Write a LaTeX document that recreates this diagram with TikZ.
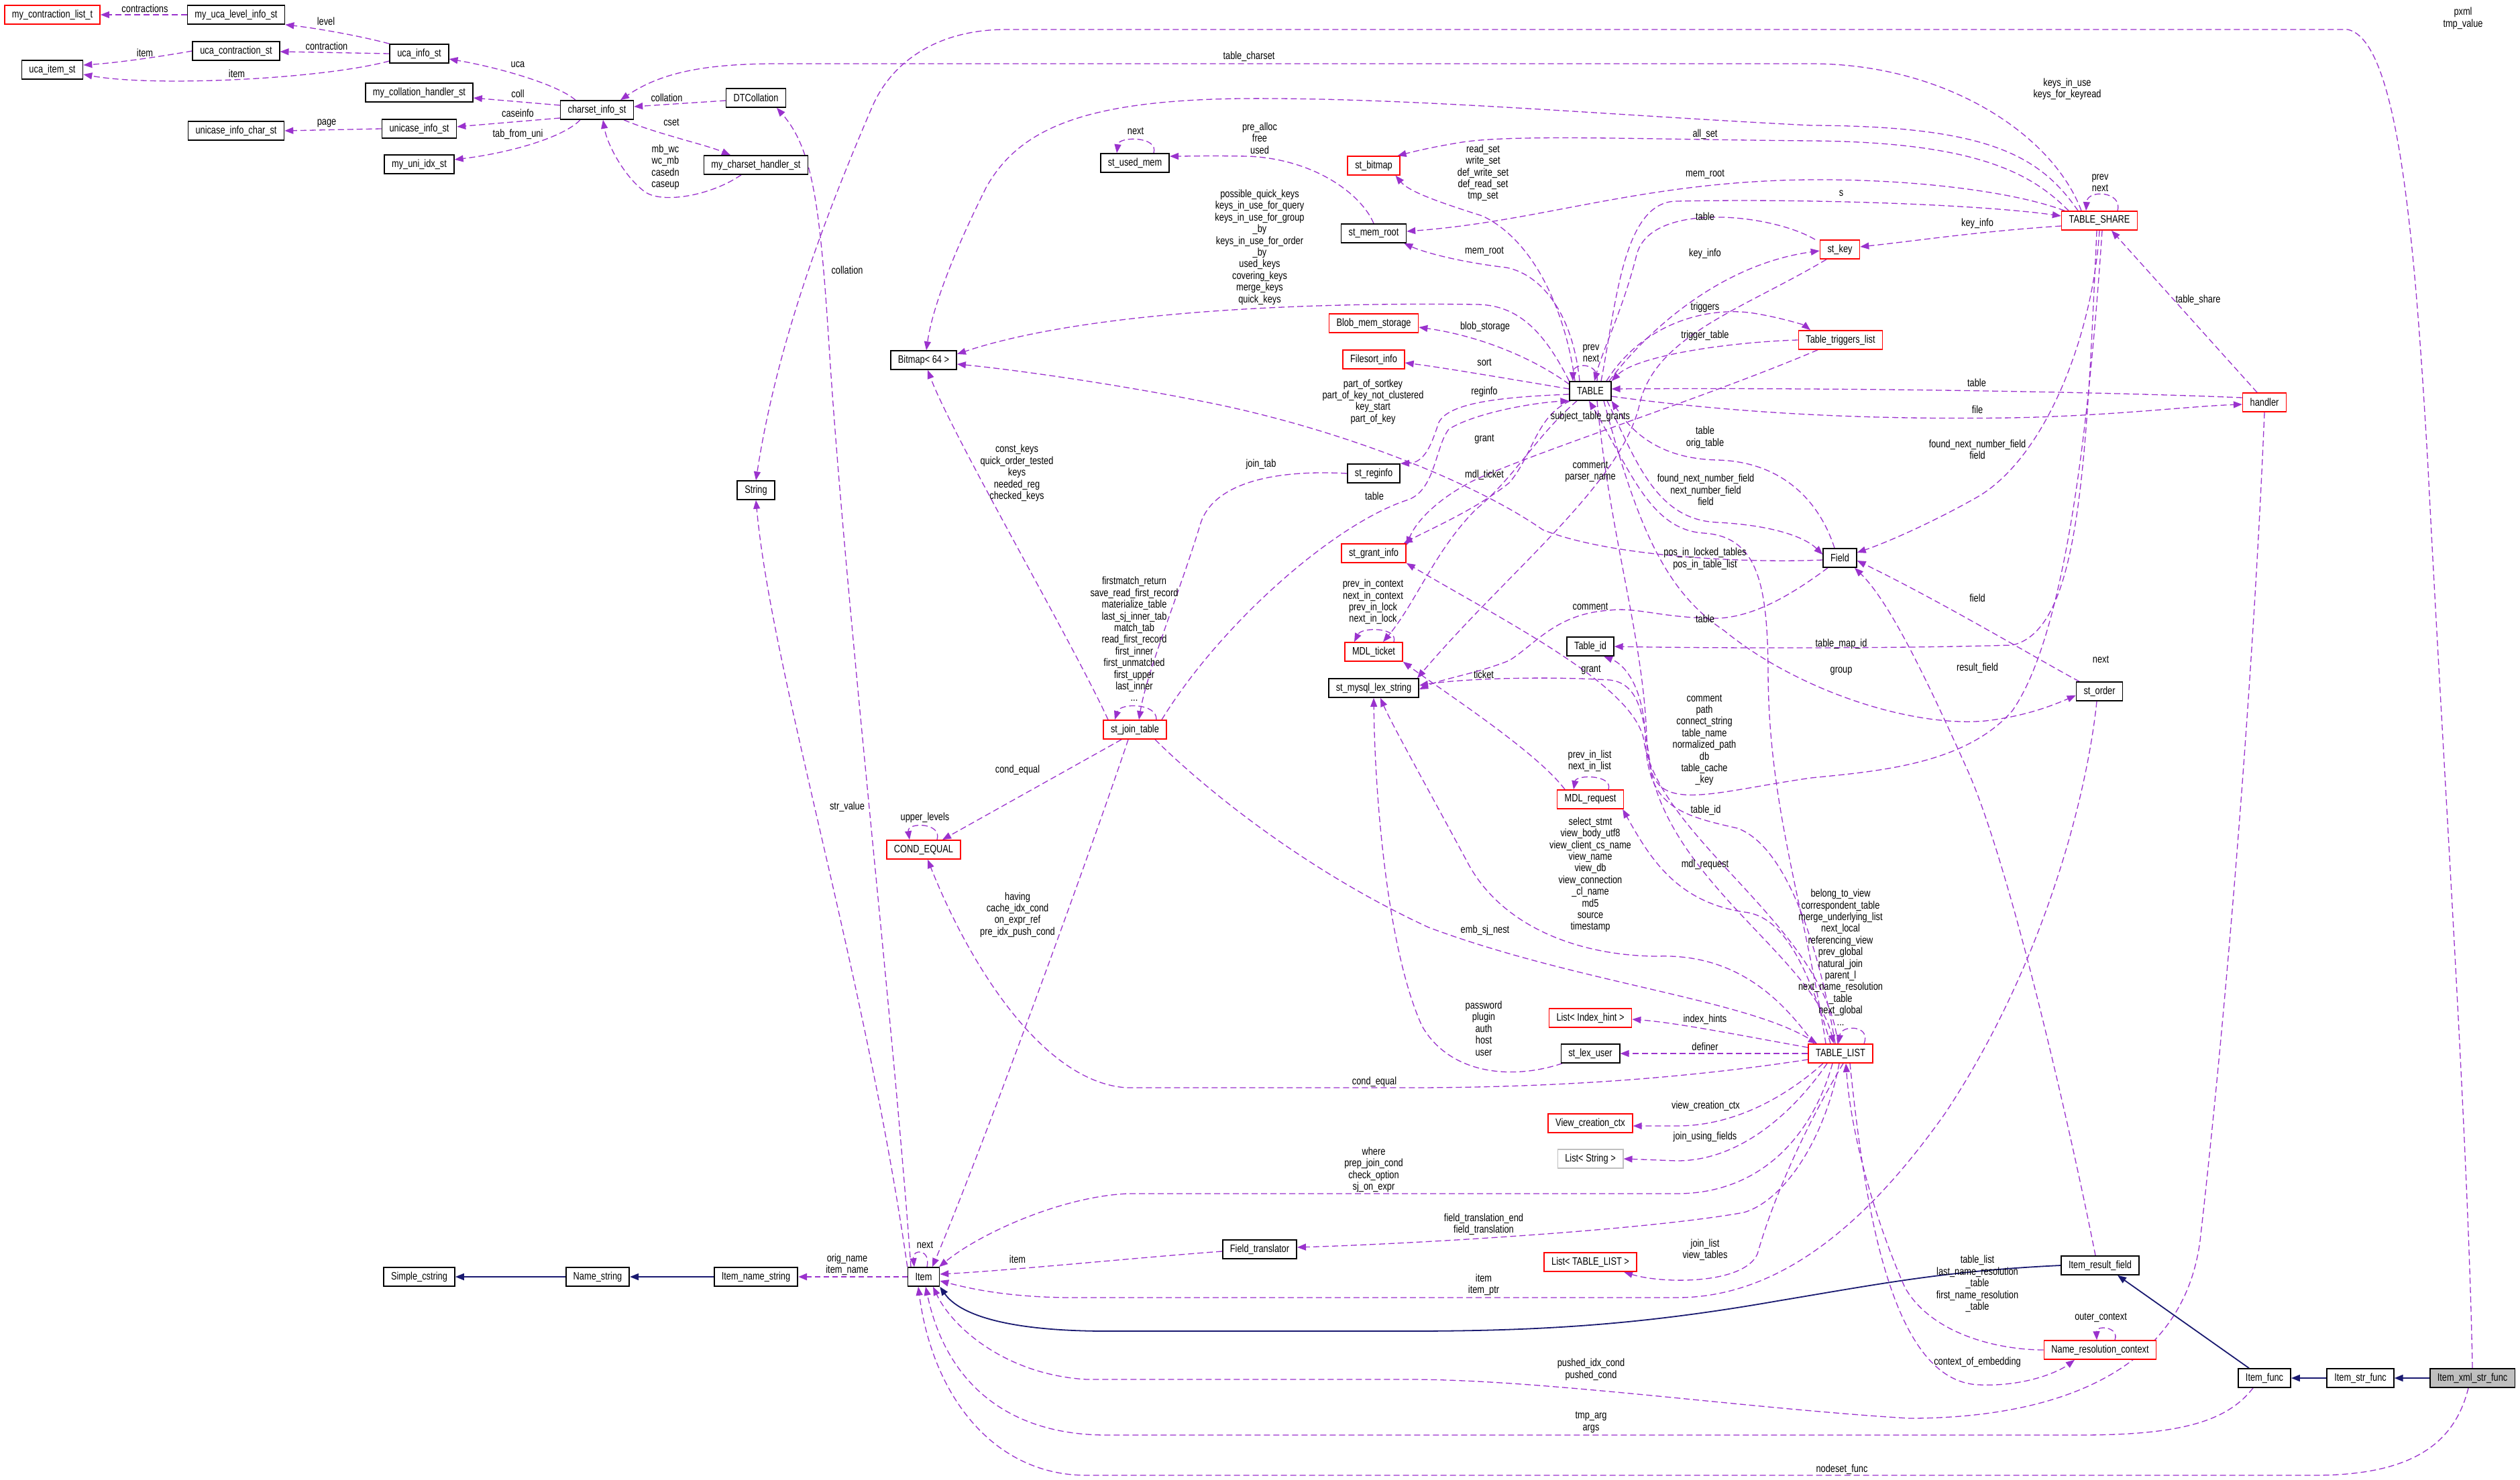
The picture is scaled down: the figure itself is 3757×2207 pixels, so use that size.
\documentclass[tikz,border=0pt]{standalone}
\usepackage{fontspec}
\setmainfont{Liberation Sans}[FakeStretch=0.8]
\usetikzlibrary{arrows.meta,backgrounds}
\definecolor{depc}{HTML}{9A32CD}
\definecolor{inhc}{HTML}{191970}
\definecolor{boxgray}{HTML}{BFBFBF}
\newcommand\dgfont{\fontsize{16}{17.4}\selectfont}
\tikzset{
  nbox/.style={draw=black, line width=1.6pt, fill=white, minimum height=28pt, inner xsep=11pt, inner ysep=0pt, font=\dgfont},
  rbox/.style={nbox, draw=red},
  gbox/.style={nbox, draw=boxgray},
  lbl/.style={font=\dgfont, align=center, inner sep=0pt},
  dep/.style={draw=depc, line width=1.3pt, dash pattern=on 9pt off 5pt, -{Triangle[length=13pt,width=10pt,fill=depc]}},
  inh/.style={draw=inhc, line width=1.8pt, -{Triangle[length=13pt,width=10pt,fill=inhc]}},
}
\begin{document}
\begin{tikzpicture}[x=1pt,y=-1pt]
\useasboundingbox (0,0) rectangle (3757,2207);
% ---------- nodes ----------
\node[rbox] (contr) at (78,22) {my\_contraction\_list\_t};
\node[nbox] (ucalevel) at (352,22) {my\_uca\_level\_info\_st};
\node[nbox] (ucacontr) at (352,76) {uca\_contraction\_st};
\node[nbox] (ucaitem) at (78,104) {uca\_item\_st};
\node[nbox] (ucainfo) at (625,80) {uca\_info\_st};
\node[nbox] (collh) at (625,138) {my\_collation\_handler\_st};
\node[nbox] (charset) at (890,164) {charset\_info\_st};
\node[nbox] (unichar) at (352,195) {unicase\_info\_char\_st};
\node[nbox] (unicase) at (625,192) {unicase\_info\_st};
\node[nbox] (uniidx) at (625,245) {my\_uni\_idx\_st};
\node[nbox] (dtcoll) at (1127,146) {DTCollation};
\node[nbox] (cshand) at (1127,246) {my\_charset\_handler\_st};
\node[nbox] (usedmem) at (1692,243) {st\_used\_mem};
\node[nbox] (bitmap) at (1377,537) {Bitmap< 64 >};
\node[nbox] (string) at (1127,731) {String};
\node[rbox] (stbitmap) at (2048,247) {st\_bitmap};
\node[nbox] (memroot) at (2048,348) {st\_mem\_root};
\node[rbox] (blob) at (2048,482) {Blob\_mem\_storage};
\node[rbox] (filesort) at (2048,536) {Filesort\_info};
\node[nbox] (table) at (2371,583) {TABLE};
\node[rbox] (stkey) at (2743,372) {st\_key};
\node[rbox] (trig) at (2744,507) {Table\_triggers\_list};
\node[nbox] (reginfo) at (2048,706) {st\_reginfo};
\node[rbox] (tshare) at (3130,329) {TABLE\_SHARE};
\node[rbox] (handler) at (3376,600) {handler};
\node[rbox] (grant) at (2048,825) {st\_grant\_info};
\node[rbox] (mdlt) at (2048,972) {MDL\_ticket};
\node[nbox] (lexstr) at (2048,1026) {st\_mysql\_lex\_string};
\node[rbox] (jointab) at (1692,1088) {st\_join\_table};
\node[rbox] (condeq) at (1377,1267) {COND\_EQUAL};
\node[nbox] (field) at (2743,832) {Field};
\node[nbox] (tableid) at (2371,964) {Table\_id};
\node[nbox] (order) at (3130,1031) {st\_order};
\node[rbox] (mdlr) at (2371,1192) {MDL\_request};
\node[rbox] (tlist) at (2744,1571) {TABLE\_LIST};
\node[rbox] (ihint) at (2371,1518) {List< Index\_hint >};
\node[nbox] (lexuser) at (2371,1571) {st\_lex\_user};
\node[rbox] (vctx) at (2371,1675) {View\_creation\_ctx};
\node[gbox] (lstr) at (2371,1728) {List< String >};
\node[rbox] (ltl) at (2371,1882) {List< TABLE\_LIST >};
\node[nbox] (resfield) at (3131,1887) {Item\_result\_field};
\node[rbox] (namectx) at (3131,2013) {Name\_resolution\_context};
\node[nbox] (ifunc) at (3376,2055) {Item\_func};
\node[nbox] (strfunc) at (3519,2055) {Item\_str\_func};
\node[nbox, fill=boxgray] (xml) at (3686,2055) {Item\_xml\_str\_func};
\node[nbox] (simple) at (625,1904) {Simple\_cstring};
\node[nbox] (namestr) at (891,1904) {Name\_string};
\node[nbox] (itemname) at (1127,1904) {Item\_name\_string};
\node[nbox] (item) at (1377,1904) {Item};
\node[nbox] (ftr) at (1878,1863) {Field\_translator};
% ---------- edges ----------
\begin{scope}[on background layer]
\fill[white] (0,0) rectangle (3757,2207);
\draw[dep] (ucalevel.west) -- (contr.east);
\draw[dep] (ucainfo.north west) .. controls (530,52) and (470,42) .. (ucalevel.south east);
\draw[dep] (ucainfo.west) -- ([yshift=-1pt]ucacontr.east);
\draw[dep] (ucacontr.west) .. controls (230,86) and (170,94) .. ([yshift=7pt]ucaitem.east);
\draw[dep] ([yshift=-11pt]ucainfo.west) .. controls (480,118) and (230,130) .. ([yshift=-7pt]ucaitem.east);
\draw[dep] ([xshift=-32pt]charset.north) .. controls (830,125) and (740,100) .. ([yshift=-8pt]ucainfo.east);
\draw[dep] ([yshift=7pt]charset.west) -- ([yshift=-8pt]collh.east);
\draw[dep] ([yshift=-12pt]charset.west) -- ([yshift=3pt]unicase.east);
\draw[dep] (unicase.west) -- (unichar.east);
\draw[dep] ([xshift=-25pt]charset.south) .. controls (840,205) and (760,228) .. ([yshift=7pt]uniidx.east);
\draw[dep] ([yshift=-4pt]dtcoll.west) -- ([yshift=5pt]charset.east);
\draw[dep] ([xshift=40pt]charset.south) .. controls (980,200) and (1050,215) .. ([xshift=-38pt]cshand.north);
\draw[dep] ([xshift=-22pt]cshand.south) .. controls (1060,292) and (985,305) .. (960,285) .. controls (930,262) and (905,215) .. ([xshift=9pt]charset.south);
\draw[dep] ([xshift=-27pt]tshare.north) .. controls (3060,200) and (2900,95) .. (2700,95) -- (1150,95) .. controls (1060,96) and (990,105) .. ([xshift=35pt]charset.north);
\draw[dep] (xml.north) .. controls (3680,1700) and (3640,1100) .. (3620,700) .. controls (3600,350) and (3575,60) .. (3500,44) -- (1500,44) .. controls (1400,44) and (1330,90) .. (1300,160) .. controls (1240,300) and (1160,500) .. (string.north);
\draw[dep] (item.north west) .. controls (1290,1450) and (1150,1000) .. (string.south);
\draw[dep] ([xshift=-19pt]item.north) .. controls (1330,1500) and (1260,900) .. (1235,500) .. controls (1222,300) and (1210,220) .. ([xshift=31pt]dtcoll.south);
\draw[dep] ([xshift=-32pt]tshare.north) .. controls (3040,230) and (2960,188) .. (2700,187) .. controls (2400,172) and (2100,145) .. (1850,147) .. controls (1620,150) and (1520,190) .. (1470,280) .. controls (1420,380) and (1390,460) .. ([xshift=4pt]bitmap.north);
\draw[dep] ([xshift=-46pt]tshare.north) .. controls (3030,260) and (2950,212) .. (2700,210) .. controls (2450,208) and (2260,200) .. (2180,212) .. controls (2130,220) and (2100,228) .. ([xshift=-4pt]stbitmap.north east);
\draw[dep] ([xshift=-52pt]tshare.north) .. controls (3000,285) and (2850,267) .. (2700,268) .. controls (2450,270) and (2300,330) .. ([yshift=3pt]memroot.east);
\draw[dep] ([xshift=16pt]table.north) .. controls (2410,450) and (2420,300) .. (2500,300) .. controls (2700,296) and (2950,305) .. ([yshift=7pt]tshare.west);
\draw[dep] ([yshift=-8pt]tshare.west) .. controls (2950,345) and (2850,360) .. ([yshift=4pt]stkey.east);
\draw[dep] ([xshift=27pt]tshare.north) .. controls (3165,285) and (3112,282) .. ([xshift=-20pt]tshare.north);
\draw[dep] ([xshift=-11pt]handler.north) -- ([xshift=18pt]tshare.south);
\draw[dep] ([yshift=7pt]handler.west) .. controls (3100,583) and (2700,578) .. ([yshift=3pt]table.east);
\draw[dep] ([yshift=-8pt]table.east) .. controls (2600,618) and (2800,626) .. (3000,623) .. controls (3150,620) and (3260,606) .. ([yshift=-3pt]handler.west);
\draw[dep] ([xshift=28pt]table.north) .. controls (2450,500) and (2560,395) .. ([yshift=-2pt]stkey.west);
\draw[dep] ([xshift=-37pt]stkey.north) .. controls (2640,318) and (2460,300) .. (2440,380) .. controls (2420,460) and (2390,520) .. ([xshift=6pt]table.north);
\draw[dep] ([xshift=24pt]table.north) .. controls (2450,480) and (2550,455) .. (2620,468) .. controls (2660,475) and (2690,485) .. ([xshift=-45pt]trig.north);
\draw[dep] (trig.west) .. controls (2580,510) and (2440,530) .. (table.north east);
\draw[dep] ([xshift=-34pt]trig.south) .. controls (2550,590) and (2300,670) .. (2200,715) .. controls (2140,745) and (2110,780) .. ([yshift=-3pt]grant.north east);
\draw[dep] ([xshift=-23pt]table.north) .. controls (2335,470) and (2290,360) .. (2210,322) .. controls (2140,300) and (2100,285) .. ([xshift=-7pt]stbitmap.south east);
\draw[dep] ([xshift=-16pt]table.north) .. controls (2345,470) and (2300,410) .. (2246,399) .. controls (2170,390) and (2120,375) .. ([xshift=-4pt]memroot.south east);
\draw[dep] (table.north west) .. controls (2300,490) and (2260,454) .. (2200,454) .. controls (1900,450) and (1600,470) .. ([yshift=9pt]bitmap.east);
\draw[dep] ([yshift=10pt]table.west) .. controls (2280,530) and (2200,500) .. ([yshift=-6pt]blob.east);
\draw[dep] ([yshift=3pt]table.west) .. controls (2250,565) and (2150,548) .. ([yshift=-5pt]filesort.east);
\draw[dep] ([yshift=-5pt]table.west) .. controls (2240,592) and (2160,600) .. (2145,630) .. controls (2135,660) and (2125,690) .. (reginfo.north east);
\draw[dep] ([xshift=10pt]table.north) .. controls (2385,540) and (2345,540) .. ([xshift=-26pt]table.north);
\draw[dep] ([xshift=-30pt]table.south) .. controls (2290,620) and (2285,680) .. (2250,720) .. controls (2200,760) and (2130,790) .. ([xshift=-4pt]grant.north east);
\draw[dep] ([xshift=-20pt]table.south) .. controls (2290,650) and (2260,710) .. (2200,760) .. controls (2140,820) and (2110,900) .. ([xshift=14pt]mdlt.north);
\draw[dep] ([xshift=-20pt]stkey.south) .. controls (2600,460) and (2470,500) .. (2445,600) .. controls (2420,720) and (2250,850) .. ([xshift=-3pt]lexstr.north east);
\draw[dep] ([xshift=25pt]table.south) .. controls (2440,690) and (2470,775) .. (2560,779) .. controls (2640,783) and (2690,800) .. ([yshift=5pt]field.west);
\draw[dep] ([xshift=-8pt]field.north) .. controls (2710,740) and (2650,688) .. (2560,686) .. controls (2470,684) and (2430,640) .. (table.south east);
\draw[dep] ([xshift=10pt]table.south) .. controls (2400,800) and (2450,950) .. (2455,1100) .. controls (2460,1300) and (2700,1420) .. ([xshift=-10pt]tlist.north);
\draw[dep] ([xshift=-22pt]tlist.north) .. controls (2690,1350) and (2636,1200) .. (2636,1000) .. controls (2635,870) and (2620,800) .. (2540,795) .. controls (2460,790) and (2430,700) .. ([xshift=-2pt]table.south);
\draw[dep] ([xshift=20pt]table.south) .. controls (2440,780) and (2480,880) .. (2570,940) .. controls (2680,1030) and (2850,1085) .. (2960,1075) .. controls (3020,1068) and (3060,1052) .. ([yshift=-6pt]order.west);
\draw[dep] ([yshift=-3pt]field.west) .. controls (2600,840) and (2400,830) .. (2300,790) .. controls (2200,720) and (2000,640) .. (1800,600) .. controls (1650,570) and (1500,550) .. ([yshift=-6pt]bitmap.east);
\draw[dep] ([xshift=-18pt]field.south) .. controls (2680,880) and (2620,920) .. (2560,922) .. controls (2480,922) and (2440,905) .. (2400,910) .. controls (2320,915) and (2290,960) .. (2250,985) .. controls (2200,1005) and (2150,1012) .. ([yshift=-2pt]lexstr.east);
\draw[dep] ([xshift=-7pt]resfield.north) .. controls (3090,1700) and (3000,1300) .. (2934,1150) .. controls (2880,1030) and (2820,900) .. ([xshift=22pt]field.south);
\draw[dep] ([xshift=-30pt]order.north) .. controls (3050,990) and (2900,900) .. ([yshift=-4pt]field.east);
\draw[dep] (tshare.south) .. controls (3120,500) and (3050,680) .. (2950,740) .. controls (2880,780) and (2810,810) .. ([yshift=8pt]field.east);
\draw[dep] ([xshift=-4pt]tshare.south) .. controls (3110,700) and (3100,940) .. (3000,962) .. controls (2800,968) and (2500,966) .. (tableid.east);
\draw[dep] ([xshift=4pt]tshare.south) .. controls (3110,700) and (3070,960) .. (3000,1060) .. controls (2930,1140) and (2800,1150) .. (2700,1160) .. controls (2560,1180) and (2480,1210) .. (2462,1150) .. controls (2450,1080) and (2450,1020) .. (2400,1014) .. controls (2300,1008) and (2180,1012) .. ([yshift=4pt]lexstr.east);
\draw[dep] ([xshift=-4pt]order.south) .. controls (3110,1200) and (3040,1450) .. (2900,1660) .. controls (2780,1830) and (2650,1935) .. (2500,1935) -- (1600,1935) .. controls (1500,1935) and (1440,1920) .. ([yshift=-6pt]item.east);
\draw[dep] (handler.south) .. controls (3360,1000) and (3320,1500) .. (3280,1850) .. controls (3250,2080) and (3000,2115) .. (2846,2115) .. controls (2600,2100) and (2300,2057) .. (2100,2057) -- (1620,2057) .. controls (1500,2050) and (1420,1980) .. ([xshift=14pt]item.south);
\draw[dep] ([xshift=-17pt]ifunc.south) .. controls (3320,2120) and (3250,2140) .. (3100,2140) -- (1650,2140) .. controls (1500,2140) and (1410,2060) .. ([xshift=3pt]item.south);
\draw[dep] ([xshift=-6pt]xml.south) .. controls (3660,2150) and (3600,2200) .. (3450,2200) -- (1620,2200) .. controls (1480,2200) and (1390,2080) .. ([xshift=-8pt]item.south);
\draw[inh] (resfield.west) .. controls (2900,1895) and (2800,1915) .. (2650,1940) .. controls (2450,1975) and (2300,1985) .. (2100,1985) -- (1650,1985) .. controls (1500,1985) and (1430,1960) .. (item.south east);
\draw[inh] ([xshift=-23pt]ifunc.north) -- ([xshift=26pt]resfield.south);
\draw[inh] (strfunc.west) -- (ifunc.east);
\draw[inh] (xml.west) -- (strfunc.east);
\draw[inh] (itemname.west) -- (namestr.east);
\draw[inh] (namestr.west) -- (simple.east);
\draw[dep, line width=2.6pt, dash pattern=on 8pt off 5pt] (item.west) -- (itemname.east);
\draw[dep] ([xshift=5pt]item.north) .. controls (1388,1862) and (1360,1862) .. ([xshift=-14pt]item.north);
\draw[dep] ([yshift=-3pt]ftr.west) .. controls (1700,1875) and (1500,1895) .. ([yshift=4pt]item.east);
\draw[dep] ([xshift=-2pt]tlist.south) .. controls (2720,1700) and (2660,1790) .. (2600,1808) .. controls (2450,1835) and (2100,1855) .. ([yshift=3pt]ftr.east);
\draw[dep] ([xshift=-12pt]tlist.south) .. controls (2700,1700) and (2620,1780) .. (2500,1780) -- (1680,1780) .. controls (1580,1785) and (1460,1840) .. ([xshift=23pt]item.north);
\draw[dep] ([xshift=4pt]tlist.south) .. controls (2680,1700) and (2640,1800) .. (2620,1870) .. controls (2600,1915) and (2480,1915) .. ([xshift=50pt]ltl.south);
\draw[dep] ([xshift=-20pt]tlist.south) .. controls (2680,1650) and (2600,1731) .. (2500,1731) -- (lstr.east);
\draw[dep] ([xshift=-26pt]tlist.south) .. controls (2680,1620) and (2600,1679) .. (2500,1679) -- ([yshift=-4pt]vctx.east);
\draw[dep] ([yshift=-9pt]tlist.west) .. controls (2500,1610) and (2300,1622) .. (2100,1622) -- (1680,1622) .. controls (1560,1615) and (1450,1450) .. ([xshift=6pt]condeq.south);
\draw[dep] ([yshift=9pt]tlist.west) .. controls (2600,1545) and (2500,1525) .. ([yshift=-2pt]ihint.east);
\draw[dep] (tlist.west) -- (lexuser.east);
\draw[dep] ([xshift=-42pt]lexuser.south) .. controls (2250,1612) and (2160,1600) .. (2120,1530) .. controls (2070,1420) and (2050,1200) .. (lexstr.south);
\draw[dep] ([xshift=-40pt]tlist.north) .. controls (2650,1480) and (2580,1422) .. (2470,1426) .. controls (2350,1425) and (2240,1380) .. (2190,1290) .. controls (2120,1160) and (2075,1080) .. ([xshift=10pt]lexstr.south);
\draw[dep] ([xshift=30pt]jointab.south) .. controls (1800,1180) and (1950,1300) .. (2130,1383) .. controls (2350,1465) and (2600,1490) .. ([xshift=-35pt]tlist.north);
\draw[dep] ([xshift=-15pt]tlist.north) .. controls (2690,1420) and (2650,1365) .. (2600,1360) .. controls (2500,1345) and (2460,1280) .. ([xshift=-2pt]mdlr.south east);
\draw[dep] ([xshift=-8pt]tlist.north) .. controls (2710,1400) and (2660,1260) .. (2590,1235) .. controls (2500,1215) and (2455,1200) .. (2453,1100) .. controls (2450,1020) and (2420,990) .. ([xshift=20pt]tableid.south);
\draw[dep] ([xshift=-4pt]tlist.north) .. controls (2720,1380) and (2470,1250) .. (2450,1100) .. controls (2430,1020) and (2250,930) .. (grant.south east);
\draw[dep] ([xshift=35pt]tlist.north) .. controls (2790,1528) and (2745,1528) .. ([xshift=-3pt]tlist.north);
\draw[dep] (namectx.west) .. controls (2980,2013) and (2880,1990) .. (2840,1920) .. controls (2800,1830) and (2760,1700) .. ([xshift=8pt]tlist.south);
\draw[dep] ([xshift=14pt]tlist.south) .. controls (2780,1800) and (2820,2060) .. (2950,2065) .. controls (3020,2068) and (3070,2045) .. ([xshift=-38pt]namectx.south);
\draw[dep] ([xshift=22pt]namectx.north) .. controls (3160,1978) and (3125,1976) .. ([xshift=-5pt]namectx.north);
\draw[dep] ([xshift=27pt]mdlr.north) .. controls (2405,1155) and (2350,1155) .. ([xshift=-25pt]mdlr.north);
\draw[dep] ([xshift=-38pt]mdlr.north) .. controls (2290,1120) and (2150,1030) .. (mdlt.south east);
\draw[dep] ([xshift=30pt]mdlt.north) .. controls (2085,935) and (2030,935) .. ([xshift=-29pt]mdlt.north);
\draw[dep] ([xshift=32pt]jointab.north) .. controls (1725,1048) and (1670,1048) .. ([xshift=-30pt]jointab.north);
\draw[dep] (reginfo.west) .. controls (1900,700) and (1810,720) .. (1790,780) .. controls (1760,880) and (1710,1000) .. ([xshift=6pt]jointab.north);
\draw[dep] ([xshift=40pt]jointab.north) .. controls (1820,930) and (1990,780) .. (2100,745) .. controls (2140,730) and (2140,665) .. (2160,640) .. controls (2200,615) and (2290,600) .. (table.south west);
\draw[dep] ([xshift=-20pt]jointab.south) -- ([xshift=28pt]condeq.north);
\draw[dep] ([xshift=-40pt]jointab.north) .. controls (1600,960) and (1420,650) .. ([xshift=6pt]bitmap.south);
\draw[dep] ([xshift=-10pt]jointab.south) .. controls (1640,1230) and (1470,1700) .. ([xshift=13pt]item.north);
\draw[dep] ([xshift=20pt]condeq.north) .. controls (1405,1226) and (1352,1226) .. ([xshift=-21pt]condeq.north);
\draw[dep] (memroot.north) .. controls (2030,290) and (1960,237) .. (1860,233) .. controls (1800,232) and (1770,233) .. ([yshift=10pt]usedmem.east);
\draw[dep] ([xshift=28pt]usedmem.north) .. controls (1728,203) and (1668,203) .. ([xshift=-27pt]usedmem.north);
\end{scope}
% ---------- labels ----------
\node[lbl] (l1) at (216,13) {contractions};
\node[lbl] (l2) at (486,32) {level};
\node[lbl] (l3) at (487,69) {contraction};
\node[lbl] (l4) at (216,79) {item};
\node[lbl] (l5) at (353,110) {item};
\node[lbl] (l6) at (772,96) {uca};
\node[lbl] (l7) at (772,140) {coll};
\node[lbl] (l8) at (772,169) {caseinfo};
\node[lbl] (l9) at (487,184) {page};
\node[lbl] (l10) at (772,200) {tab\_from\_uni};
\node[lbl] (l11) at (994,146) {collation};
\node[lbl] (l12) at (1001,182) {cset};
\node[lbl] (l13) at (992,249.5) {mb\_wc\\wc\_mb\\casedn\\caseup};
\node[lbl] (l14) at (1862,84) {table\_charset};
\node[lbl] (l15) at (3672,27.5) {pxml\\tmp\_value};
\node[lbl] (l16) at (3082,133) {keys\_in\_use\\keys\_for\_keyread};
\node[lbl] (l17) at (2542,200) {all\_set};
\node[lbl] (l18) at (2211,258) {read\_set\\write\_set\\def\_write\_set\\def\_read\_set\\tmp\_set};
\node[lbl] (l19) at (2542,260) {mem\_root};
\node[lbl] (l20) at (2745,288) {s};
\node[lbl] (l21) at (2542,323) {table};
\node[lbl] (l22) at (2213,375) {mem\_root};
\node[lbl] (l23) at (2542,378) {key\_info};
\node[lbl] (l24) at (2948,333) {key\_info};
\node[lbl] (l25) at (3131,272.5) {prev\\next};
\node[lbl] (l26) at (1878,206) {pre\_alloc\\free\\used};
\node[lbl] (l27) at (1693,195) {next};
\node[lbl] (l28) at (1878,368.7) {possible\_quick\_keys\\keys\_in\_use\_for\_query\\keys\_in\_use\_for\_group\\\_by\\keys\_in\_use\_for\_order\\\_by\\used\_keys\\covering\_keys\\merge\_keys\\quick\_keys};
\node[lbl] (l29) at (2542,458) {triggers};
\node[lbl] (l30) at (2214,487) {blob\_storage};
\node[lbl] (l31) at (2542,500) {trigger\_table};
\node[lbl] (l32) at (2372,527) {prev\\next};
\node[lbl] (l33) at (2213,540) {sort};
\node[lbl] (l34) at (2213,584) {reginfo};
\node[lbl] (l35) at (2047,599) {part\_of\_sortkey\\part\_of\_key\_not\_clustered\\key\_start\\part\_of\_key};
\node[lbl] (l36) at (2371,621) {subject\_table\_grants};
\node[lbl] (l37) at (2542,652.5) {table\\orig\_table};
\node[lbl] (l38) at (2213,655) {grant};
\node[lbl] (l39) at (2371,703.5) {comment\\parser\_name};
\node[lbl] (l40) at (2213,708) {mdl\_ticket};
\node[lbl] (l41) at (1880,692) {join\_tab};
\node[lbl] (l42) at (2049,740) {table};
\node[lbl] (l43) at (2543,730.5) {found\_next\_number\_field\\next\_number\_field\\field};
\node[lbl] (l44) at (2947,571) {table};
\node[lbl] (l45) at (2948,611) {file};
\node[lbl] (l46) at (3277,447) {table\_share};
\node[lbl] (l47) at (2948,670.5) {found\_next\_number\_field\\field};
\node[lbl] (l48) at (1516,705.5) {const\_keys\\quick\_order\_tested\\keys\\needed\_reg\\checked\_keys};
\node[lbl] (l49) at (1691,953) {firstmatch\_return\\save\_read\_first\_record\\materialize\_table\\last\_sj\_inner\_tab\\match\_tab\\read\_first\_record\\first\_inner\\first\_unmatched\\first\_upper\\last\_inner\\...};
\node[lbl] (l50) at (2047,897.5) {prev\_in\_context\\next\_in\_context\\prev\_in\_lock\\next\_in\_lock};
\node[lbl] (l51) at (1517,1148) {cond\_equal};
\node[lbl] (l52) at (1379,1219) {upper\_levels};
\node[lbl] (l53) at (1263,1203) {str\_value};
\node[lbl] (l54) at (1263,403) {collation};
\node[lbl] (l55) at (2542,833.5) {pos\_in\_locked\_tables\\pos\_in\_table\_list};
\node[lbl] (l56) at (2371,904) {comment};
\node[lbl] (l57) at (2542,923) {table};
\node[lbl] (l58) at (2745,960) {table\_map\_id};
\node[lbl] (l59) at (2745,1001) {group};
\node[lbl] (l60) at (2372,999) {grant};
\node[lbl] (l61) at (2212,1006) {ticket};
\node[lbl] (l62) at (2948,892) {field};
\node[lbl] (l63) at (2948,996) {result\_field};
\node[lbl] (l64) at (3132,983) {next};
\node[lbl] (l65) at (2541,1103.5) {comment\\path\\connect\_string\\table\_name\\normalized\_path\\db\\table\_cache\\\_key};
\node[lbl] (l66) at (2370,1134.5) {prev\_in\_list\\next\_in\_list};
\node[lbl] (l67) at (2543,1208) {table\_id};
\node[lbl] (l68) at (2371,1304.5) {select\_stmt\\view\_body\_utf8\\view\_client\_cs\_name\\view\_name\\view\_db\\view\_connection\\\_cl\_name\\md5\\source\\timestamp};
\node[lbl] (l69) at (2542,1289) {mdl\_request};
\node[lbl] (l70) at (2744,1427.5) {belong\_to\_view\\correspondent\_table\\merge\_underlying\_list\\next\_local\\referencing\_view\\prev\_global\\natural\_join\\parent\_l\\next\_name\_resolution\\\_table\\next\_global\\...};
\node[lbl] (l71) at (2214,1387) {emb\_sj\_nest};
\node[lbl] (l72) at (1517,1364) {having\\cache\_idx\_cond\\on\_expr\_ref\\pre\_idx\_push\_cond};
\node[lbl] (l73) at (2212,1533.5) {password\\plugin\\auth\\host\\user};
\node[lbl] (l74) at (2542,1520) {index\_hints};
\node[lbl] (l75) at (2542,1561) {definer};
\node[lbl] (l76) at (2049,1613) {cond\_equal};
\node[lbl] (l77) at (2543,1649) {view\_creation\_ctx};
\node[lbl] (l78) at (2542,1695) {join\_using\_fields};
\node[lbl] (l79) at (2048,1744.5) {where\\prep\_join\_cond\\check\_option\\sj\_on\_expr};
\node[lbl] (l80) at (2212,1826) {field\_translation\_end\\field\_translation};
\node[lbl] (l81) at (2542,1863.5) {join\_list\\view\_tables};
\node[lbl] (l82) at (1517,1878) {item};
\node[lbl] (l83) at (2212,1916) {item\\item\_ptr};
\node[lbl] (l84) at (2948,1914.5) {table\_list\\last\_name\_resolution\\\_table\\first\_name\_resolution\\\_table};
\node[lbl] (l85) at (3132,1965) {outer\_context};
\node[lbl] (l86) at (2948,2031) {context\_of\_embedding};
\node[lbl] (l87) at (2372,2042.5) {pushed\_idx\_cond\\pushed\_cond};
\node[lbl] (l88) at (2372,2121) {tmp\_arg\\args};
\node[lbl] (l89) at (2746,2191) {nodeset\_func};
\node[lbl] (l90) at (1263,1886) {orig\_name\\item\_name};
\node[lbl] (l91) at (1379,1856) {next};
\end{tikzpicture}
\end{document}
